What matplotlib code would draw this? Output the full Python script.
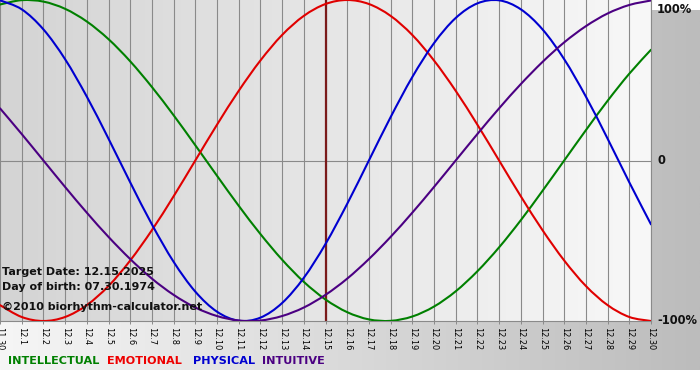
import numpy as np
import matplotlib
matplotlib.use("Agg")
import matplotlib.pyplot as plt
from matplotlib.colors import LinearSegmentedColormap
from matplotlib.path import Path
from matplotlib.patches import PathPatch

# ---- data (values in -1..1) ----
days = ["11.30"] + [f"12.{d}" for d in range(1, 31)]
intellectual = [0.972, 0.999, 0.990, 0.945, 0.866, 0.756, 0.618, 0.458, 0.282, 0.095,
                -0.095, -0.282, -0.458, -0.618, -0.756, -0.866, -0.945, -0.990, -0.999, -0.972,
                -0.910, -0.815, -0.690, -0.541, -0.372, -0.189, 0.000, 0.189, 0.372, 0.541, 0.690]
emotional = [-0.901, -0.975, -1.000, -0.975, -0.901, -0.782, -0.623, -0.434, -0.223, 0.000,
             0.223, 0.434, 0.623, 0.782, 0.901, 0.975, 1.000, 0.975, 0.901, 0.782,
             0.623, 0.434, 0.223, 0.000, -0.223, -0.434, -0.623, -0.782, -0.901, -0.975, -1.000]
physical = [0.998, 0.942, 0.817, 0.631, 0.398, 0.136, -0.136, -0.398, -0.631, -0.817,
            -0.942, -0.998, -0.979, -0.888, -0.731, -0.520, -0.270, 0.000, 0.270, 0.520,
            0.731, 0.888, 0.979, 0.998, 0.942, 0.817, 0.631, 0.398, 0.136, -0.136, -0.398]
intuitive = [0.325, 0.165, 0.000, -0.165, -0.325, -0.476, -0.614, -0.736, -0.837, -0.916,
             -0.969, -0.997, -0.997, -0.969, -0.916, -0.837, -0.736, -0.614, -0.476, -0.325,
             -0.165, 0.000, 0.165, 0.325, 0.476, 0.614, 0.736, 0.837, 0.916, 0.969, 0.997]
target_label = "12.15"
legend_names = ["INTELLECTUAL", "EMOTIONAL", "PHYSICAL", "INTUITIVE"]
y_labels = ["100%", "0", "-100%"]

W, H = 700, 380
fig = plt.figure(figsize=(W / 100, H / 100), dpi=100)
fig.patch.set_facecolor("white")

# outer gradient background
bg = fig.add_axes([0, 10 / H, 1, 360 / H], zorder=0)
bg_cmap = LinearSegmentedColormap.from_list("bg", ["#f6f6f6", "#bcbcbc"])
bg.imshow(np.linspace(0, 1, 256).reshape(1, -1), cmap=bg_cmap, aspect="auto",
          extent=[0, 1, 0, 1])
bg.set_axis_off()

# main plot area
left, right, top, bottom = 0, 651, 0, 321
ax = fig.add_axes([left / W, 1 - bottom / H, (right - left) / W, (bottom - top) / H], zorder=1)
x = np.arange(len(days))
pa_cmap = LinearSegmentedColormap.from_list("pa", ["#d4d4d4", "#f8f8f8"])
ax.imshow(np.linspace(0, 1, 256).reshape(1, -1), cmap=pa_cmap, aspect="auto",
          extent=[0, len(days) - 1, -1, 1], zorder=0)
ax.set_xlim(0, len(days) - 1)
ax.set_ylim(-1.0, 1.0)

for xi in x:
    ax.axvline(xi, color="#8a8a8a", lw=0.8, zorder=1)
ax.axhline(0, color="#8a8a8a", lw=0.8, zorder=1)
ax.axvline(days.index(target_label), color="#7a1a1a", lw=1.6, zorder=2)


def smooth_path(xs, ys):
    """Curve through every data point (Catmull-Rom drawn as Bezier segments)."""
    pts = np.column_stack([xs, ys]).astype(float)
    ext = np.vstack([pts[0], pts, pts[-1]])
    verts = [pts[0]]
    codes = [Path.MOVETO]
    for i in range(1, len(ext) - 2):
        p0, p1, p2, p3 = ext[i - 1], ext[i], ext[i + 1], ext[i + 2]
        c1 = p1 + (p2 - p0) / 6.0
        c2 = p2 - (p3 - p1) / 6.0
        verts += [c1, c2, p2]
        codes += [Path.CURVE4] * 3
    return Path(verts, codes)


colors = ["#008000", "#e00000", "#0000d0", "#4b0082"]
for series, c in zip([intellectual, emotional, physical, intuitive], colors):
    ax.add_patch(PathPatch(smooth_path(x, series), facecolor="none", edgecolor=c,
                           lw=1.5, zorder=3, capstyle="round", clip_on=True))

for s in ["top", "left"]:
    ax.spines[s].set_visible(False)
for s in ["bottom", "right"]:
    ax.spines[s].set_color("#8a8a8a")
    ax.spines[s].set_linewidth(0.8)
ax.set_xticks(x)
ax.set_xticklabels(days, rotation=-90, fontsize=5.9, family="DejaVu Sans")
ax.tick_params(axis="x", length=2.5, width=0.7, color="#8a8a8a", pad=1.5)
ax.set_yticks([])

# right side labels
for lab, yv in zip(y_labels, [0.94, 0.0, -1.0]):
    ax.text(1.0 + 6 / 651, yv, lab, transform=ax.get_yaxis_transform(),
            ha="left", va="center", fontsize=8.3, fontweight="bold", color="#111111")

# info text
info = [("Target Date: 12.15.2025", 272), ("Day of birth: 07.30.1974", 287),
        ("\u00a92010 biorhythm-calculator.net", 307)]
for t, yp in info:
    fig.text(2 / W, 1 - yp / H, t, ha="left", va="center", fontsize=8.0,
             fontweight="bold", color="#111111", zorder=5)

# legend text
for name, c, xp in zip(legend_names, colors, [8, 107, 193, 262]):
    fig.text(xp / W, 1 - 361 / H, name, ha="left", va="center", fontsize=8.1,
             fontweight="bold", color=c if c != "#e00000" else "#ee0000")

fig.savefig("out.png", dpi=100)
